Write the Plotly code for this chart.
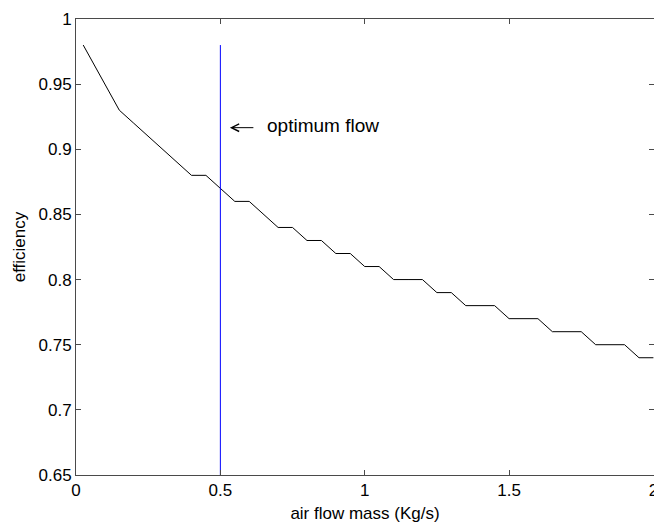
import plotly.graph_objects as go

# data
flow = [0.025, 0.15, 0.2, 0.25, 0.3, 0.35, 0.4, 0.45, 0.5, 0.55, 0.6, 0.65,
        0.7, 0.75, 0.8, 0.85, 0.9, 0.95, 1.0, 1.05, 1.1, 1.15, 1.2, 1.25,
        1.3, 1.35, 1.4, 1.45, 1.5, 1.55, 1.6, 1.65, 1.7, 1.75, 1.8, 1.85,
        1.9, 1.95, 2.0]
efficiency = [0.98, 0.93, 0.92, 0.91, 0.90, 0.89, 0.88, 0.88, 0.87, 0.86, 0.86, 0.85,
              0.84, 0.84, 0.83, 0.83, 0.82, 0.82, 0.81, 0.81, 0.80, 0.80, 0.80, 0.79,
              0.79, 0.78, 0.78, 0.78, 0.77, 0.77, 0.77, 0.76, 0.76, 0.76, 0.75, 0.75,
              0.75, 0.74, 0.74]
opt_x = [0.5, 0.5]
opt_y = [0.65, 0.98]
x_ticks = [0, 0.5, 1, 1.5, 2]
x_ticklabels = ["0", "0.5", "1", "1.5", "2"]
y_ticks = [0.65, 0.7, 0.75, 0.8, 0.85, 0.9, 0.95, 1.0]
y_ticklabels = ["0.65", "0.7", "0.75", "0.8", "0.85", "0.9", "0.95", "1"]
label_text = "optimum flow"
label_pos = (0.654, 0.9186)
arrow_tip = (0.533, 0.9166)

FONT = "Liberation Sans, Arial, sans-serif"
AX = "#4a4a4a"

fig = go.Figure()
fig.add_trace(go.Scatter(x=flow, y=efficiency, mode="lines",
                         line=dict(color="black", width=1), showlegend=False))
fig.add_trace(go.Scatter(x=opt_x, y=opt_y, mode="lines",
                         line=dict(color="#0000ff", width=1), showlegend=False))

fig.add_annotation(x=arrow_tip[0], y=arrow_tip[1], text="", showarrow=True,
                   ax=25, ay=0, axref="pixel", ayref="pixel",
                   arrowhead=5, arrowsize=1.5, arrowwidth=1, arrowcolor="black",
                   standoff=0, startstandoff=0)
fig.add_annotation(x=label_pos[0], y=label_pos[1], text=label_text, showarrow=False,
                   xanchor="left", yanchor="middle",
                   font=dict(family=FONT, size=19, color="black"))

axis_common = dict(showline=True, linecolor=AX, linewidth=1, mirror="allticks",
                   ticks="inside", ticklen=5, tickcolor=AX, tickwidth=1,
                   showgrid=False, zeroline=False, automargin=False,
                   ticklabeloverflow="allow",
                   tickfont=dict(family=FONT, size=17, color="black"))

fig.update_xaxes(range=[0, 2.002], tickvals=x_ticks, ticktext=x_ticklabels,
                 title=dict(text="air flow mass (Kg/s)", standoff=12,
                            font=dict(family=FONT, size=17, color="black")),
                 **axis_common)
fig.update_yaxes(range=[0.65, 1.0], tickvals=y_ticks, ticktext=y_ticklabels,
                 title=dict(text="efficiency", standoff=8,
                            font=dict(family=FONT, size=17, color="black")),
                 **axis_common)

fig.update_layout(width=654, height=523,
                  margin=dict(l=76, r=0, t=19, b=48, autoexpand=False),
                  paper_bgcolor="white", plot_bgcolor="white")
fig.write_html("out.html", config={"displayModeBar": False},
               post_script="document.body.style.margin='0';document.body.style.overflow='hidden';")
